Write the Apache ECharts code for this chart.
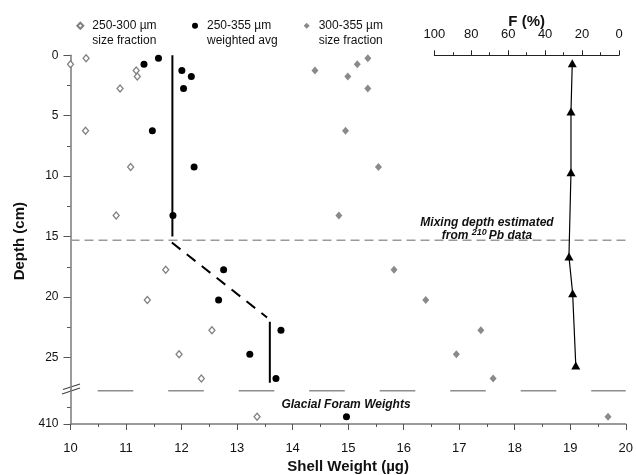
<!DOCTYPE html>
<html><head><meta charset="utf-8">
<script src="https://cdn.jsdelivr.net/npm/echarts@6/dist/echarts.min.js"></script>
<style>html,body{margin:0;padding:0;background:#fff}#c{width:636px;height:475px}</style>
</head><body><div id="c"></div>
<script>
// ---- data ----
const depths = [0.25, 0.75, 1.25, 1.75, 2.75, 6.25, 9.25, 13.25, 17.75, 20.25, 22.75, 24.75, 26.75];
const size250_300 = [10.28, 10.0, 11.18, 11.2, 10.89, 10.27, 11.08, 10.82, 11.71, 11.38, 12.54, 11.95, 12.35];
const weighted250_355 = [11.58, 11.32, 12.0, 12.17, 12.03, 11.47, 12.22, 11.84, 12.75, 12.66, 13.78, 13.22, 13.69];
const size300_355 = [15.34, 15.15, 14.39, 14.98, 15.34, 14.94, 15.53, 14.82, 15.81, 16.38, 17.37, 16.93, 17.59];
const glacialDepth = 409.58;
const glacial250_300 = 13.36;
const glacialWeighted = 14.97;
const glacial300_355 = 19.68;
const fDepths = [0.65, 4.65, 9.67, 16.66, 19.69, 25.68];
const fPercent = [25.3, 26.0, 26.0, 27.1, 25.1, 23.4];
const meanUpper = 11.83, meanUpperDepths = [0, 15.0];
const meanLower = 13.58, meanLowerDepths = [22.05, 27.1];
const meanTransition = [[11.82, 15.5], [13.53, 21.7]];
const mixingDepth = 15.3;
const depthTicks = [0, 5, 10, 15, 20, 25];
const depthMinorTicks = [2.5, 7.5, 12.5, 17.5, 22.5];
const names = ['250-300 µm size fraction', '250-355 µm weighted avg', '300-355 µm size fraction'];

const FONT = '"Liberation Sans", Arial, Helvetica, sans-serif';
const GRAY = '#7a7a7a';
const pairs = (ys, xs) => ys.map((d, i) => [xs[i], d]);

const chart = echarts.init(document.getElementById('c'), null, {renderer: 'canvas'});

const legendCommon = {
  orient: 'horizontal', top: 4, padding: 0, itemWidth: 6, itemHeight: 6,
  selectedMode: false,
  formatter: n => ' \n' + n.replace(/ (size|weighted)/, '\n$1'),
  textStyle: {fontFamily: FONT, fontSize: 12, color: '#111', lineHeight: 14.5, padding: [0, 0, 0, 4]}
};

const option = {
  animation: false,
  backgroundColor: '#fff',
  textStyle: {fontFamily: FONT},
  legend: [
    Object.assign({}, legendCommon, {left: 76.3, data: [names[0]]}),
    Object.assign({}, legendCommon, {left: 192, data: [names[1]]}),
    Object.assign({}, legendCommon, {left: 303.7, data: [names[2]]})
  ],
  grid: [
    {left: 70.5, right: 8.7, top: 55.3, height: 334.7},
    {left: 70.5, right: 8.7, top: 390, height: 36.7},
    {left: 434.3, width: 184.7, top: 55.3, height: 334.7}
  ],
  xAxis: [
    {gridIndex: 0, type: 'value', min: 10, max: 20, show: false},
    {gridIndex: 1, type: 'value', min: 10, max: 20, interval: 1, position: 'bottom',
     axisLine: {lineStyle: {color: GRAY, width: 1.5}},
     axisTick: {length: 6, lineStyle: {color: '#555'}},
     minorTick: {show: true, splitNumber: 2, length: 3, lineStyle: {color: '#555'}},
     splitLine: {show: false},
     axisLabel: {fontSize: 13, color: '#111', margin: 18},
     name: 'Shell Weight (µg)', nameLocation: 'middle', nameGap: 35, nameMoveOverlap: false,
     nameTextStyle: {fontSize: 15, fontWeight: 'bold', color: '#111'}},
    {gridIndex: 2, type: 'value', min: 0, max: 100, interval: 20, inverse: true, position: 'top', offset: 10,
     axisLine: {lineStyle: {color: '#222', width: 1}},
     axisTick: {length: 5, lineStyle: {color: '#222'}},
     minorTick: {show: true, splitNumber: 2, length: 3, lineStyle: {color: '#222'}},
     splitLine: {show: false},
     axisLabel: {fontSize: 13, color: '#111', margin: 4},
     name: 'F (%)', nameLocation: 'middle', nameGap: 15.5, nameMoveOverlap: false,
     nameTextStyle: {fontSize: 15, fontWeight: 'bold', color: '#111'}}
  ],
  yAxis: [
    {gridIndex: 0, type: 'value', position: 'left', min: 0, max: 27.7, inverse: true,
     axisLine: {lineStyle: {color: GRAY, width: 1.5}},
     axisTick: {length: 7, customValues: depthTicks, lineStyle: {color: '#555'}},
     axisLabel: {customValues: depthTicks, fontSize: 12, color: '#111', margin: 12},
     splitLine: {show: false},
     name: 'Depth (cm)', nameLocation: 'middle', nameGap: 43, nameRotate: 90,
     nameTextStyle: {fontSize: 15, fontWeight: 'bold', color: '#111', padding: [0, 37, 0, 0]}},
    {gridIndex: 0, type: 'value', position: 'left', min: 0, max: 27.7, inverse: true,
     axisLine: {show: false},
     axisTick: {length: 3.5, customValues: depthMinorTicks, lineStyle: {color: '#555'}},
     axisLabel: {show: false}, splitLine: {show: false}},
    {gridIndex: 1, type: 'value', position: 'left', min: 408, max: 410, inverse: true,
     axisLine: {lineStyle: {color: GRAY, width: 1.5}},
     axisTick: {length: 7, customValues: [410], lineStyle: {color: '#555'}},
     axisLabel: {customValues: [410], fontSize: 12, color: '#111', margin: 12},
     splitLine: {show: false}},
    {gridIndex: 1, type: 'value', position: 'left', min: 408, max: 410, inverse: true,
     axisLine: {show: false},
     axisTick: {length: 3.5, customValues: [409], lineStyle: {color: '#555'}},
     axisLabel: {show: false}, splitLine: {show: false}},
    {gridIndex: 2, type: 'value', min: 0, max: 27.7, inverse: true, show: false}
  ],
  series: [
    // mixing depth line
    {type: 'line', xAxisIndex: 0, yAxisIndex: 0, silent: true, symbol: 'none', z: 1,
     data: [[10, mixingDepth], [20, mixingDepth]],
     lineStyle: {color: '#9a9a9a', width: 1.5, type: [9, 5]}},
    // glacial separator
    {type: 'line', xAxisIndex: 1, yAxisIndex: 2, silent: true, symbol: 'none', z: 1,
     data: [[10.49, 408.05], [20, 408.05]],
     lineStyle: {color: '#555', width: 1, type: [35.6, 34.9]}},
    // weighted average mean lines
    {type: 'line', xAxisIndex: 0, yAxisIndex: 0, silent: true, symbol: 'none', z: 2,
     data: meanUpperDepths.map(d => [meanUpper, d]), lineStyle: {color: '#000', width: 2}},
    {type: 'line', xAxisIndex: 0, yAxisIndex: 0, silent: true, symbol: 'none', z: 2,
     data: meanTransition, lineStyle: {color: '#000', width: 2, type: [11, 8]}},
    {type: 'line', xAxisIndex: 0, yAxisIndex: 0, silent: true, symbol: 'none', z: 2,
     data: meanLowerDepths.map(d => [meanLower, d]), lineStyle: {color: '#000', width: 2}},
    // scatter series
    {name: names[0], type: 'scatter', xAxisIndex: 0, yAxisIndex: 0, symbol: 'diamond', symbolSize: [6, 7], z: 3,
     data: pairs(depths, size250_300), itemStyle: {color: '#fff', borderColor: '#808080', borderWidth: 1.3, opacity: 1}},
    {name: names[0], type: 'scatter', xAxisIndex: 1, yAxisIndex: 2, symbol: 'diamond', symbolSize: [6, 7], z: 3,
     data: [[glacial250_300, glacialDepth]], itemStyle: {color: '#fff', borderColor: '#808080', borderWidth: 1.3, opacity: 1}},
    {name: names[1], type: 'scatter', xAxisIndex: 0, yAxisIndex: 0, symbol: 'circle', symbolSize: 7, z: 3,
     data: pairs(depths, weighted250_355), itemStyle: {color: '#000', opacity: 1}},
    {name: names[1], type: 'scatter', xAxisIndex: 1, yAxisIndex: 2, symbol: 'circle', symbolSize: 7, z: 3,
     data: [[glacialWeighted, glacialDepth]], itemStyle: {color: '#000', opacity: 1}},
    {name: names[2], type: 'scatter', xAxisIndex: 0, yAxisIndex: 0, symbol: 'diamond', symbolSize: [7, 8], z: 3,
     data: pairs(depths, size300_355), itemStyle: {color: '#8a8a8a', opacity: 1}},
    {name: names[2], type: 'scatter', xAxisIndex: 1, yAxisIndex: 2, symbol: 'diamond', symbolSize: [7, 8], z: 3,
     data: [[glacial300_355, glacialDepth]], itemStyle: {color: '#8a8a8a', opacity: 1}},
    // F (%)
    {name: 'F', type: 'line', xAxisIndex: 2, yAxisIndex: 4, symbol: 'triangle', symbolSize: [9, 8], z: 3,
     data: pairs(fDepths, fPercent), showAllSymbol: true,
     lineStyle: {color: '#000', width: 1.2}, itemStyle: {color: '#000'}}
  ],
  graphic: [
    {type: 'text', x: 487, y: 222.5, silent: true,
     style: {text: 'Mixing depth estimated', font: 'italic bold 12px ' + FONT, fill: '#111', align: 'center', verticalAlign: 'middle'}},
    {type: 'text', x: 487, y: 235.5, silent: true,
     style: {text: 'from {sup|210}Pb data', font: 'italic bold 12px ' + FONT, fill: '#111', align: 'center', verticalAlign: 'middle',
       rich: {sup: {font: 'italic bold 9px ' + FONT, fill: '#111', verticalAlign: 'top', padding: [0, 2, 6, 0]}}}},
    {type: 'text', x: 346, y: 404.5, silent: true,
     style: {text: 'Glacial Foram Weights', font: 'italic bold 12px ' + FONT, fill: '#111', align: 'center', verticalAlign: 'middle'}},
    {type: 'line', silent: true, shape: {x1: 63, y1: 389.5, x2: 80, y2: 384}, style: {stroke: '#444', lineWidth: 1.2}},
    {type: 'line', silent: true, shape: {x1: 62, y1: 394, x2: 80, y2: 388}, style: {stroke: '#444', lineWidth: 1.2}}
  ]
};
chart.setOption(option);
</script></body></html>
